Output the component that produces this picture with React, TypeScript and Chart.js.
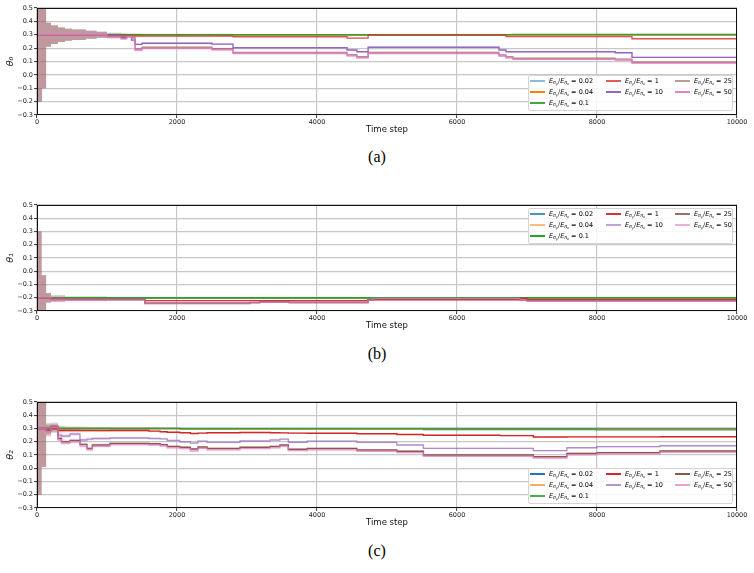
import React, { useEffect, useRef } from "react";
import { Chart, registerables } from "chart.js";
Chart.register(...registerables);

const FONT = "'DejaVu Sans', 'Liberation Sans', sans-serif";

const RATIOS = ["0.02", "0.04", "0.1", "1", "10", "25", "50"];
const COLORS = ["#1f77b4", "#ff7f0e", "#2ca02c", "#d62728", "#9467bd", "#8c564b", "#e377c2"];
const X_TICKS = [0, 2000, 4000, 6000, 8000, 10000];
const Y_TICKS = [-0.3, -0.2, -0.1, 0.0, 0.1, 0.2, 0.3, 0.4, 0.5];

// ---------- Panel (a): theta_0 ----------
const T_A = [0, 70, 130, 200, 300, 400, 500, 700, 850, 1000, 1200, 1280, 1350, 1400, 1500, 2500, 2800, 4430, 4570, 4730, 6600, 6700, 6800, 8260, 8500, 10000];
const A_002 = [0.3, 0.3, 0.3, 0.3, 0.3, 0.3, 0.3, 0.3, 0.3, 0.3, 0.3, 0.3, 0.3, 0.3, 0.3, 0.3, 0.3, 0.3, 0.3, 0.3, 0.3, 0.3, 0.3, 0.3, 0.3, 0.3];
const A_004 = [0.3, 0.3, 0.3, 0.3, 0.3, 0.3, 0.3, 0.3, 0.3, 0.3, 0.3, 0.3, 0.3, 0.3, 0.3, 0.3, 0.3, 0.3, 0.3, 0.3, 0.3, 0.3, 0.3, 0.3, 0.3, 0.3];
const A_01 = [0.3, 0.3, 0.3, 0.3, 0.3, 0.3, 0.3, 0.3, 0.3, 0.3, 0.3, 0.3, 0.3, 0.3, 0.3, 0.3, 0.3, 0.3, 0.3, 0.301, 0.301, 0.301, 0.302, 0.302, 0.302, 0.302];
const A_1 = [0.3, 0.3, 0.3, 0.3, 0.3, 0.3, 0.3, 0.3, 0.3, 0.295, 0.29, 0.29, 0.29, 0.29, 0.29, 0.29, 0.285, 0.275, 0.275, 0.297, 0.297, 0.286, 0.286, 0.286, 0.27, 0.27];
const A_10 = [0.3, 0.3, 0.3, 0.3, 0.3, 0.3, 0.3, 0.3, 0.3, 0.295, 0.28, 0.29, 0.26, 0.228, 0.236, 0.23, 0.203, 0.186, 0.173, 0.206, 0.186, 0.173, 0.173, 0.165, 0.131, 0.131];
const A_25 = [0.3, 0.3, 0.3, 0.3, 0.3, 0.3, 0.3, 0.3, 0.3, 0.287, 0.275, 0.29, 0.28, 0.193, 0.206, 0.195, 0.168, 0.15, 0.136, 0.168, 0.149, 0.135, 0.124, 0.118, 0.094, 0.094];
const A_50 = [0.3, 0.3, 0.3, 0.3, 0.3, 0.3, 0.3, 0.3, 0.3, 0.282, 0.27, 0.285, 0.275, 0.186, 0.198, 0.188, 0.16, 0.142, 0.128, 0.16, 0.141, 0.127, 0.116, 0.11, 0.088, 0.088];
const S_A = [0.5, 0.4, 0.09, 0.07, 0.055, 0.045, 0.04, 0.03, 0.022, 0.015, 0.012, 0.01, 0.01, 0.01, 0.008, 0.007, 0.006, 0.006, 0.006, 0.006, 0.006, 0.006, 0.006, 0.006, 0.006, 0.006];

// ---------- Panel (b): theta_1 ----------
const T_B = [0, 65, 130, 200, 400, 1000, 1540, 3040, 3180, 3600, 4730, 4800, 6900, 7000, 8870, 10000];
const B_002 = [-0.2, -0.2, -0.2, -0.201, -0.202, -0.202, -0.202, -0.202, -0.202, -0.202, -0.202, -0.202, -0.202, -0.202, -0.202, -0.202];
const B_004 = [-0.2, -0.2, -0.2, -0.202, -0.203, -0.203, -0.203, -0.203, -0.203, -0.203, -0.203, -0.203, -0.203, -0.203, -0.203, -0.203];
const B_01 = [-0.2, -0.2, -0.2, -0.2, -0.2, -0.2, -0.2, -0.2, -0.2, -0.2, -0.2, -0.2, -0.2, -0.2, -0.2, -0.2];
const B_1 = [-0.2, -0.2, -0.2, -0.212, -0.212, -0.212, -0.222, -0.222, -0.222, -0.222, -0.215, -0.215, -0.205, -0.215, -0.215, -0.215];
const B_10 = [-0.2, -0.2, -0.2, -0.212, -0.213, -0.213, -0.24, -0.235, -0.23, -0.234, -0.216, -0.208, -0.218, -0.222, -0.222, -0.215];
const B_25 = [-0.2, -0.2, -0.2, -0.213, -0.214, -0.214, -0.242, -0.237, -0.232, -0.236, -0.217, -0.21, -0.219, -0.223, -0.223, -0.216];
const B_50 = [-0.2, -0.2, -0.2, -0.215, -0.216, -0.216, -0.245, -0.24, -0.234, -0.238, -0.218, -0.205, -0.22, -0.224, -0.224, -0.217];
const S_B = [0.5, 0.17, 0.035, 0.02, 0.012, 0.008, 0.006, 0.006, 0.006, 0.006, 0.006, 0.006, 0.006, 0.006, 0.006, 0.006];

// ---------- Panel (c): theta_2 ----------
const T_C = [0, 65, 130, 200, 300, 350, 400, 470, 614, 714, 790, 1040, 1600, 1760, 1860, 2040, 2190, 2300, 2430, 2900, 3330, 3470, 3590, 3860, 4570, 5140, 5520, 6614, 7090, 7570, 8000, 8900, 10000];
const C_002 = [0.3, 0.3, 0.3, 0.3, 0.301, 0.301, 0.301, 0.301, 0.301, 0.301, 0.301, 0.301, 0.301, 0.301, 0.301, 0.301, 0.301, 0.301, 0.301, 0.301, 0.301, 0.301, 0.301, 0.301, 0.301, 0.301, 0.301, 0.301, 0.301, 0.301, 0.301, 0.301, 0.301];
const C_004 = [0.3, 0.3, 0.3, 0.3, 0.3, 0.3, 0.3, 0.3, 0.3, 0.3, 0.3, 0.3, 0.3, 0.3, 0.3, 0.296, 0.296, 0.296, 0.296, 0.296, 0.296, 0.296, 0.296, 0.296, 0.296, 0.296, 0.296, 0.296, 0.296, 0.296, 0.296, 0.296, 0.296];
const C_01 = [0.3, 0.3, 0.3, 0.3, 0.3, 0.3, 0.3, 0.3, 0.3, 0.3, 0.3, 0.3, 0.3, 0.3, 0.3, 0.297, 0.297, 0.297, 0.297, 0.297, 0.297, 0.297, 0.297, 0.297, 0.297, 0.297, 0.293, 0.293, 0.293, 0.293, 0.29, 0.29, 0.29];
const C_1 = [0.3, 0.3, 0.29, 0.3, 0.285, 0.285, 0.285, 0.285, 0.284, 0.284, 0.284, 0.285, 0.28, 0.275, 0.272, 0.268, 0.262, 0.265, 0.268, 0.27, 0.268, 0.267, 0.265, 0.264, 0.26, 0.255, 0.249, 0.246, 0.236, 0.237, 0.237, 0.238, 0.238];
const C_10 = [0.3, 0.3, 0.285, 0.315, 0.25, 0.243, 0.243, 0.258, 0.213, 0.22, 0.225, 0.228, 0.225, 0.222, 0.21, 0.2, 0.19, 0.205, 0.195, 0.206, 0.213, 0.22, 0.196, 0.205, 0.195, 0.175, 0.15, 0.15, 0.133, 0.155, 0.163, 0.17, 0.17];
const C_25 = [0.3, 0.3, 0.285, 0.315, 0.225, 0.2, 0.2, 0.21, 0.18, 0.15, 0.175, 0.188, 0.185, 0.178, 0.165, 0.158, 0.145, 0.16, 0.15, 0.158, 0.165, 0.175, 0.143, 0.15, 0.138, 0.128, 0.1, 0.1, 0.087, 0.112, 0.118, 0.13, 0.13];
const C_50 = [0.3, 0.3, 0.275, 0.31, 0.215, 0.19, 0.19, 0.2, 0.168, 0.14, 0.165, 0.178, 0.175, 0.168, 0.155, 0.148, 0.13, 0.15, 0.14, 0.148, 0.155, 0.165, 0.133, 0.14, 0.128, 0.118, 0.09, 0.09, 0.077, 0.102, 0.11, 0.12, 0.12];
const S_C = [0.5, 0.29, 0.04, 0.03, 0.02, 0.018, 0.015, 0.014, 0.013, 0.012, 0.011, 0.01, 0.008, 0.006, 0.006, 0.006, 0.006, 0.006, 0.006, 0.006, 0.006, 0.006, 0.006, 0.006, 0.006, 0.006, 0.006, 0.006, 0.006, 0.006, 0.006, 0.006, 0.006];

type Panel = {
  times: number[];
  series: number[][];
  spread: number[];
  alphas: number[];
  label: string;
};

const PANEL_A: Panel = { times: T_A, series: [A_002, A_004, A_01, A_1, A_10, A_25, A_50], spread: S_A, alphas: [0.5, 1, 0.9, 0.75, 1, 0.6, 0.9], label: "θ₀" };
const PANEL_B: Panel = { times: T_B, series: [B_002, B_004, B_01, B_1, B_10, B_25, B_50], spread: S_B, alphas: [0.8, 0.55, 1, 0.95, 0.6, 0.85, 0.6], label: "θ₁" };
const PANEL_C: Panel = { times: T_C, series: [C_002, C_004, C_01, C_1, C_10, C_25, C_50], spread: S_C, alphas: [1, 0.65, 0.85, 1, 0.7, 1, 0.7], label: "θ₂" };

function hexA(hex: string, a: number) {
  const n = parseInt(hex.slice(1), 16);
  return `rgba(${(n >> 16) & 255},${(n >> 8) & 255},${n & 255},${a})`;
}

const framePlugin = {
  id: "frame",
  afterDraw(chart: any) {
    const { ctx, chartArea } = chart;
    const l = Math.round(chartArea.left) + 0.5;
    const t = Math.round(chartArea.top) + 0.5;
    const r = Math.round(chartArea.right) - 0.5;
    const b = Math.round(chartArea.bottom) - 0.5;
    ctx.save();
    ctx.strokeStyle = "#111";
    ctx.lineWidth = 1;
    ctx.strokeRect(l, t, r - l, b - t);
    ctx.restore();
  },
};

function buildDatasets(p: Panel) {
  const ds: any[] = [];
  p.series.forEach((vals, i) => {
    const base = ds.length;
    const color = COLORS[i];
    ds.push({
      data: p.times.map((t, k) => ({ x: t, y: vals[k] - p.spread[k] })),
      borderWidth: 0, pointRadius: 0, fill: false, stepped: true, order: 1000 - base,
    });
    ds.push({
      data: p.times.map((t, k) => ({ x: t, y: vals[k] + p.spread[k] })),
      borderWidth: 0, pointRadius: 0, fill: base, backgroundColor: hexA(color, 0.15), stepped: true, order: 999 - base,
    });
    ds.push({
      data: p.times.map((t, k) => ({ x: t, y: vals[k] })),
      borderColor: hexA(color, p.alphas[i]), borderWidth: 1.4, pointRadius: 0, fill: false, stepped: true, order: 998 - base,
    });
  });
  return ds;
}

function fmtY(v: number) {
  if (Math.abs(v) < 1e-9) return "0.0";
  const s = v.toFixed(1);
  return s.replace("-", "\u2212");
}

function makeConfig(p: Panel): any {
  return {
    type: "line",
    data: { datasets: buildDatasets(p) },
    options: {
      animation: false,
      responsive: false,
      events: [],
      layout: { padding: { left: 0, right: 17, top: 8, bottom: 0 } },
      plugins: { legend: { display: false }, tooltip: { enabled: false } },
      scales: {
        x: {
          type: "linear",
          min: 0,
          max: 10000,
          afterFit: (s: any) => { s.height = 20; },
          afterBuildTicks: (s: any) => { s.ticks = X_TICKS.map((v) => ({ value: v })); },
          ticks: { font: { family: FONT, size: 6.5 }, color: "#222", padding: 0, maxRotation: 0, autoSkip: false, callback: (v: any) => String(v) },
          grid: { color: "#c8c8c8", lineWidth: 1.2, tickLength: 3, tickColor: "#000", tickWidth: 0.8 },
          border: { display: false },
          title: { display: true, text: "Time step", font: { family: FONT, size: 8.5 }, color: "#111", padding: { top: 0, bottom: 0 } },
        },
        y: {
          type: "linear",
          min: -0.3,
          max: 0.5,
          afterFit: (s: any) => { s.width = 37; },
          afterBuildTicks: (s: any) => { s.ticks = Y_TICKS.map((v) => ({ value: v })); },
          ticks: { font: { family: FONT, size: 6.5 }, color: "#222", padding: 1, autoSkip: false, callback: (v: any) => fmtY(Number(v)) },
          grid: { color: "#c8c8c8", lineWidth: 1.2, tickLength: 3, tickColor: "#000", tickWidth: 0.8 },
          border: { display: false },
          title: { display: true, text: p.label, font: { family: FONT, size: 9.5, style: "italic" }, color: "#111", padding: { top: 5, bottom: 0 } },
        },
      },
    },
    plugins: [framePlugin],
  };
}

function PanelChart({ panel, top, height }: { panel: Panel; top: number; height: number }) {
  const ref = useRef<HTMLCanvasElement>(null);
  useEffect(() => {
    const chart = new Chart(ref.current as HTMLCanvasElement, makeConfig(panel));
    return () => chart.destroy();
  }, [panel]);
  return (
    <canvas
      ref={ref}
      width={754}
      height={height}
      style={{ position: "absolute", left: 0, top, width: 754, height }}
    />
  );
}

const subS: React.CSSProperties = { fontSize: "0.72em", position: "relative", top: "0.3em" };

function Label({ r }: { r: string }) {
  return (
    <span>
      <i>E</i>
      <span style={subS}><i>π</i><span style={subS}><i>y</i></span></span>
      /<i>E</i>
      <span style={subS}><i>π</i><span style={subS}><i>x</i></span></span>
      {" = " + r}
    </span>
  );
}

function Legend({ top, alphas }: { top: number; alphas: number[] }) {
  const cols = [[0, 1, 2], [3, 4], [5, 6]];
  const handleX = [1, 77, 146];
  const textX = [20, 96, 165];
  const rowY = [5, 16, 27];
  return (
    <div
      style={{
        position: "absolute", left: 528, top, width: 205, height: 36,
        border: "1px solid #d5d5d5", borderRadius: 2, background: "rgba(255,255,255,0.85)",
        boxSizing: "border-box", fontFamily: FONT, fontSize: 6.5, color: "#000",
      }}
    >
      {cols.map((col, c) =>
        col.map((si, r) => (
          <React.Fragment key={si}>
            <div style={{ position: "absolute", left: handleX[c], top: rowY[r] - 0.75, width: 15, height: 1.5, background: hexA(COLORS[si], alphas[si]) }} />
            <div style={{ position: "absolute", left: textX[c], top: rowY[r] - 5, lineHeight: "10px", whiteSpace: "nowrap" }}>
              <Label r={RATIOS[si]} />
            </div>
          </React.Fragment>
        ))
      )}
    </div>
  );
}

function Caption({ text, top }: { text: string; top: number }) {
  return (
    <div style={{ position: "absolute", left: 0, top, width: 754, textAlign: "center", fontFamily: "'Liberation Serif', serif", fontSize: 16, lineHeight: "18px", color: "#000" }}>
      {text}
    </div>
  );
}

export default function App() {
  return (
    <div style={{ position: "fixed", left: 0, top: 0, width: 754, height: 573, background: "#fff", overflow: "hidden" }}>
      <PanelChart panel={PANEL_A} top={0} height={135} />
      <Legend top={75} alphas={PANEL_A.alphas} />
      <Caption text="(a)" top={148} />
      <PanelChart panel={PANEL_B} top={197} height={134} />
      <Legend top={208} alphas={PANEL_B.alphas} />
      <Caption text="(b)" top={345} />
      <PanelChart panel={PANEL_C} top={394} height={134} />
      <Legend top={468} alphas={PANEL_C.alphas} />
      <Caption text="(c)" top={542} />
    </div>
  );
}
